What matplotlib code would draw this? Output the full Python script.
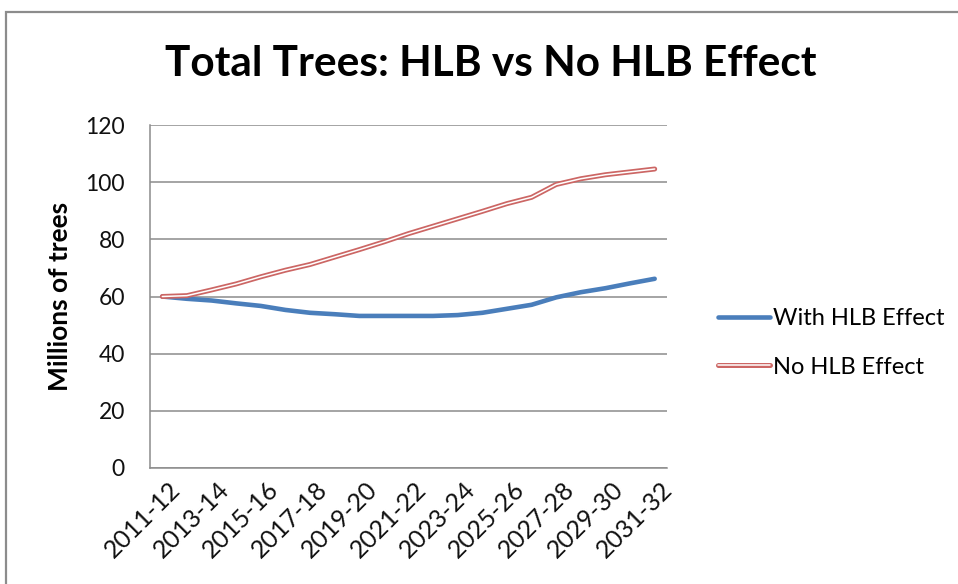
import matplotlib
matplotlib.use("Agg")
import matplotlib.pyplot as plt
import matplotlib.patheffects as pe
from matplotlib.patches import Rectangle
import matplotlib.transforms as mtransforms

seasons = ["2011-12", "2012-13", "2013-14", "2014-15", "2015-16", "2016-17", "2017-18",
           "2018-19", "2019-20", "2020-21", "2021-22", "2022-23", "2023-24", "2024-25",
           "2025-26", "2026-27", "2027-28", "2028-29", "2029-30", "2030-31", "2031-32"]
with_hlb = [60.0, 59.2, 58.6, 57.6, 56.7, 55.3, 54.3, 53.8, 53.2, 53.2, 53.2,
            53.2, 53.5, 54.3, 55.7, 57.1, 59.7, 61.5, 62.9, 64.6, 66.2]
no_hlb = [60.0, 60.3, 62.3, 64.4, 66.9, 69.2, 71.2, 73.8, 76.4, 79.1, 82.0,
          84.6, 87.2, 89.8, 92.5, 94.7, 99.2, 101.2, 102.6, 103.6, 104.6]
y_ticks = [0, 20, 40, 60, 80, 100, 120]

FONT = "Lato"
plt.rcParams["font.family"] = [FONT, "DejaVu Sans"]

fig = plt.figure(figsize=(9.58, 5.84), dpi=100)
fig.patch.set_facecolor("white")

# outer chart border
fig.add_artist(Rectangle((6 / 958, -0.05), 1.2, 1 - 12 / 584 + 0.05,
                         transform=fig.transFigure, fill=False,
                         edgecolor="#8C8C8C", linewidth=1.6))

ax = fig.add_axes([150 / 958, 1 - 468 / 584, (667 - 150) / 958, (468 - 125) / 584])
x = list(range(len(seasons)))

ax.plot(x, with_hlb, color="#4A7EBB", linewidth=3.3, solid_capstyle="round",
        label="With HLB Effect", zorder=3)
ax.plot(x, no_hlb, color="white", linewidth=1.1, solid_capstyle="round",
        label="No HLB Effect", zorder=4,
        path_effects=[pe.Stroke(linewidth=3.6, foreground="#CC6664"), pe.Normal()])

ax.set_xlim(-0.5, len(seasons) - 0.5)
ax.set_ylim(0, 120)
ax.set_yticks(y_ticks)
ax.set_yticklabels([str(v) for v in y_ticks], fontsize=16.5, color="#111111")
ax.yaxis.grid(True, color="#8C8C8C", linewidth=1.1)
ax.set_axisbelow(True)
ax.tick_params(axis="both", length=0)
ax.tick_params(axis="y", pad=18)

ax.set_xticks(x[::2])
labels = ax.set_xticklabels(seasons[::2], rotation=45, ha="right", va="center",
                            rotation_mode="anchor", fontsize=18, color="#111111")
offset = mtransforms.ScaledTranslation(14 / 100, -13 / 100, fig.dpi_scale_trans)
for lab in labels:
    lab.set_transform(lab.get_transform() + offset)

for side in ["top", "right"]:
    ax.spines[side].set_visible(False)
for side in ["left", "bottom"]:
    ax.spines[side].set_color("#8C8C8C")
    ax.spines[side].set_linewidth(1.1)

ax.set_ylabel("Millions of trees", fontsize=19, fontweight="bold")
ax.yaxis.set_label_coords(-78 / 517, 0.5)

fig.text(491 / 958, 1 - 64 / 584, "Total Trees: HLB vs No HLB Effect",
         ha="center", va="center", fontsize=30.5, fontweight="bold")

leg = fig.legend(loc="center left", bbox_to_anchor=(718 / 958, 1 - 343 / 584),
                 frameon=False, fontsize=17, handlelength=2.2, handletextpad=0.12,
                 labelspacing=1.15, borderpad=0, borderaxespad=0)

fig.savefig("out.png", dpi=100)
